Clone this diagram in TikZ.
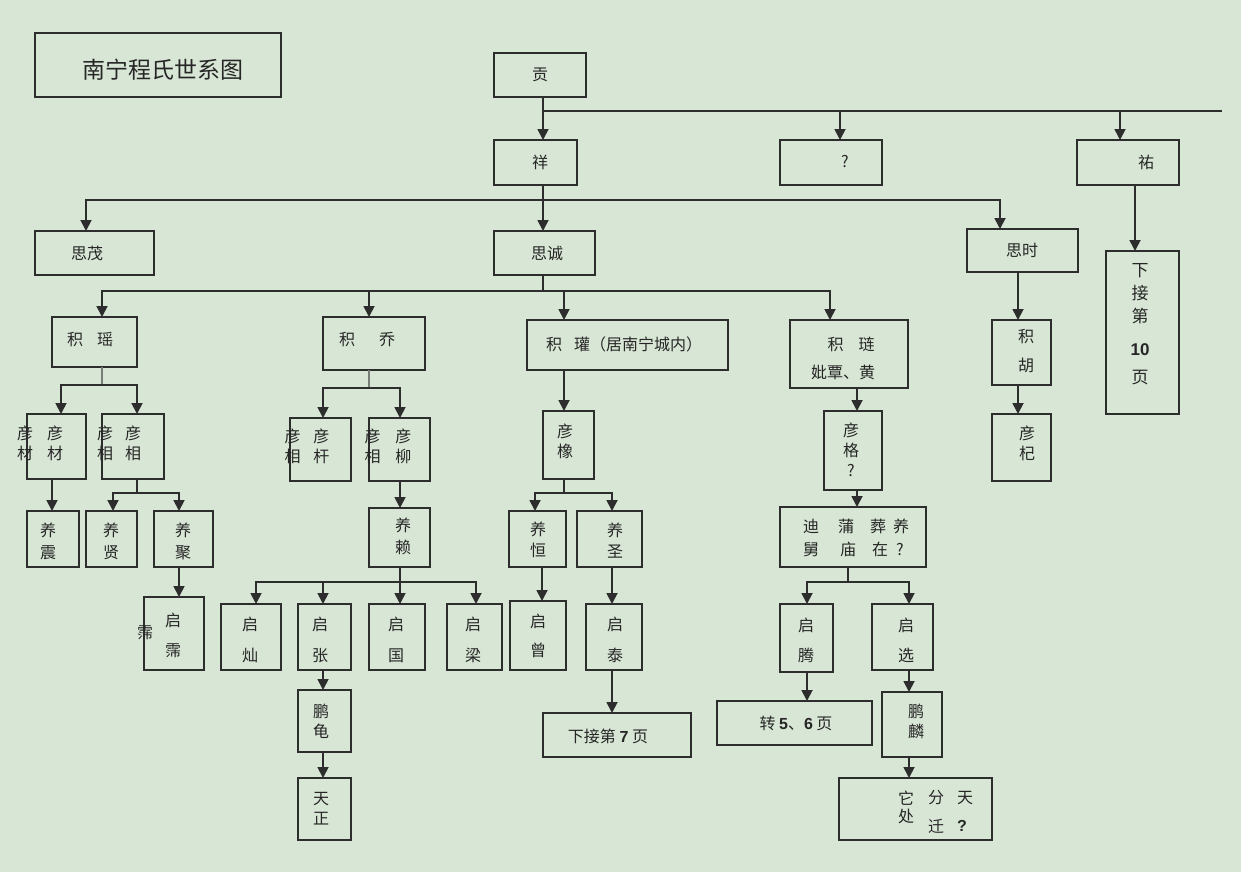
\documentclass[tikz,border=0pt]{standalone}
\usepackage{fontspec}
\newfontfamily\cjk{Noto Sans CJK SC}
\newfontfamily\lat{Liberation Sans}
\usetikzlibrary{arrows.meta}
\definecolor{bgc}{RGB}{216,230,213}
\definecolor{linec}{RGB}{45,45,45}
\definecolor{stubc}{RGB}{120,125,120}
\tikzset{
  box/.style={draw=linec, line width=1.4pt, inner sep=0pt, outer sep=0pt, anchor=north west},
  txt/.style={font=\cjk\fontsize{16}{20}\selectfont, align=center, inner sep=0pt, text=black!85},
  conn/.style={draw=linec, line width=1.8pt},
  arr/.style={conn, -{Triangle[width=11pt,length=11pt]}},
  stub/.style={draw=stubc, line width=1.1pt}
}
\newcommand\bx[5]{\node[box,minimum width={#4pt-#2pt},minimum height={#5pt-#3pt}] (#1) at (#2,#3) {};}
\newcommand\tx[4]{\node[txt] (#1) at (#2,#3) {#4};}
\begin{document}
\begin{tikzpicture}[x=1pt,y=-1pt]
\fill[bgc] (0,0) rectangle (1241,872);
\useasboundingbox (0,0) rectangle (1241,872);
% ---- boxes and texts
\bx{title}{35}{33}{281}{97}
\node[txt,font=\cjk\fontsize{23}{26}\selectfont] (titlet) at (163,70) {南宁程氏世系图};
\bx{gong}{494}{53}{586}{97} \tx{gongt}{540}{75}{贡}
\bx{xiang}{494}{140}{577}{185} \tx{xiangt}{540}{162}{祥}
\bx{q}{780}{140}{882}{185} \tx{qt}{845}{162}{?}
\bx{you}{1077}{140}{1179}{185} \tx{yout}{1146}{162}{祐}
\bx{p10}{1106}{251}{1179}{414}
\node[txt,font=\cjk\fontsize{17}{23}\selectfont] (p10t) at (1140,324) {下\\接\\第\\[10pt]{\lat\bfseries 10}\\[5pt]页};
\bx{simao}{35}{231}{154}{275} \tx{simaot}{87}{253}{思茂}
\bx{sicheng}{494}{231}{595}{275} \tx{sichengt}{547}{253}{思诚}
\bx{sishi}{967}{229}{1078}{272} \tx{sishit}{1022}{250}{思时}
\bx{jiyao}{52}{317}{137}{367} \tx{jiyaot}{90}{339}{积\hspace{14pt}瑶}
\bx{jiqiao}{323}{317}{425}{370} \tx{jiqiaot}{367}{339}{积\hspace{24pt}乔}
\bx{jiguan}{527}{320}{728}{370} \tx{jiguant}{624}{344}{积\hspace{12pt}瓘（居南宁城内）}
\bx{jilian}{790}{320}{908}{388} \tx{jiliant}{851}{344}{积\hspace{15pt}琏} \tx{jiliant2}{843}{372}{妣覃、黄}
\bx{jihu}{992}{320}{1051}{385} \tx{jihut}{1026}{351}{积\\[9pt]胡}
\bx{yanqi}{992}{414}{1051}{481} \tx{yanqit}{1027}{443}{彦\\杞}
% 积瑶 branch
\bx{yc}{27}{414}{86}{479} \tx{yct}{40}{443}{彦\hspace{14pt}彦\\材\hspace{14pt}材}
\bx{yx1}{102}{414}{164}{479} \tx{yx1t}{119}{443}{彦\hspace{12pt}彦\\相\hspace{12pt}相}
\bx{yzhen}{27}{511}{79}{567} \tx{yzhent}{48}{541}{养\\[2pt]震}
\bx{yxian}{86}{511}{137}{567} \tx{yxiant}{111}{541}{养\\[2pt]贤}
\bx{yju}{154}{511}{213}{567} \tx{yjut}{183}{541}{养\\[2pt]聚}
\bx{qpei}{144}{597}{204}{670} \tx{qpeit}{173}{635}{启\\[10pt]霈} \tx{qpeix}{145}{633}{霈}
% 积乔 branch
\bx{ygan}{290}{418}{351}{481} \tx{ygant}{307}{446}{彦\hspace{13pt}彦\\相\hspace{13pt}杆}
\bx{yliu}{369}{418}{430}{481} \tx{yliut}{388}{446}{彦\hspace{15pt}彦\\相\hspace{15pt}柳}
\bx{ylai}{369}{508}{430}{567} \tx{ylait}{403}{536}{养\\[2pt]赖}
\bx{qcan}{221}{604}{281}{670} \tx{qcant}{250}{640}{启\\[11pt]灿}
\bx{qzhang}{298}{604}{351}{670} \tx{qzhangt}{320}{640}{启\\[11pt]张}
\bx{qguo}{369}{604}{425}{670} \tx{qguot}{396}{640}{启\\[11pt]国}
\bx{qliang}{447}{604}{502}{670} \tx{qliangt}{473}{640}{启\\[11pt]梁}
\bx{pgui}{298}{690}{351}{752} \tx{pguit}{321}{721}{鹏\\龟}
\bx{tzheng}{298}{778}{351}{840} \tx{tzhengt}{321}{809}{天\\正}
% 积瓘 branch
\bx{yxiang}{543}{411}{594}{479} \tx{yxiangt}{565}{441}{彦\\橡}
\bx{yheng}{509}{511}{566}{567} \tx{yhengt}{538}{540}{养\\[1pt]恒}
\bx{ysheng}{577}{511}{642}{567} \tx{yshengt}{615}{541}{养\\[1pt]圣}
\bx{qzeng}{510}{601}{566}{670} \tx{qzengt}{538}{636}{启\\[9pt]曾}
\bx{qtai}{586}{604}{642}{670} \tx{qtait}{615}{640}{启\\[11pt]泰}
\bx{p7}{543}{713}{691}{757} \tx{p7t}{608}{736}{下接第 {\lat\bfseries 7} 页}
% 积琏 branch
\bx{yge}{824}{411}{882}{490} \tx{yget}{851}{450}{彦\\格\\?}
\bx{di}{780}{507}{926}{567}
\node[txt,anchor=west] (dit1) at (803,526) {迪\hspace{19pt}蒲\hspace{16pt}葬\hspace{7pt}养};
\node[txt,anchor=west] (dit2) at (803,549) {舅\hspace{21pt}庙\hspace{16pt}在\hspace{8pt}?};
\bx{qteng}{780}{604}{833}{672} \tx{qtengt}{806}{640}{启\\[10pt]腾}
\bx{qxuan}{872}{604}{933}{670} \tx{qxuant}{906}{640}{启\\[10pt]选}
\bx{z56}{717}{701}{872}{745} \tx{z56t}{796}{723}{转 {\lat\bfseries 5}、{\lat\bfseries 6} 页}
\bx{plin}{882}{692}{942}{757} \tx{plint}{916}{721}{鹏\\麟}
\bx{tachu}{839}{778}{992}{840}
\tx{tc1}{906}{798}{它} \tx{tc2}{936}{798}{分} \tx{tc3}{965}{798}{天}
\tx{tc4}{906}{816}{处} \tx{tc5}{936}{826}{迁} \tx{tc6}{962}{826}{{\lat\bfseries ?}}
% ---- connectors
\draw[conn] (543,111) -- (1222,111);
\draw[arr] (gong.south -| 543,0) -- (543,0 |- xiang.north);
\draw[arr] (840,111) -- (840,0 |- q.north);
\draw[arr] (1120,111) -- (1120,0 |- you.north);
\draw[arr] (you.south -| 1135,0) -- (1135,0 |- p10.north);
\draw[arr] (xiang.south -| 543,0) -- (543,0 |- sicheng.north);
\draw[arr] (543,200) -- (86,200) -- (86,0 |- simao.north);
\draw[arr] (543,200) -- (1000,200) -- (1000,0 |- sishi.north);
\draw[conn] (sicheng.south -| 543,0) -- (543,291);
\draw[arr] (543,291) -- (102,291) -- (102,0 |- jiyao.north);
\draw[arr] (369,291) -- (369,0 |- jiqiao.north);
\draw[arr] (543,291) -- (830,291) -- (830,0 |- jilian.north);
\draw[arr] (564,291) -- (564,0 |- jiguan.north);
% 积瑶
\draw[stub] (jiyao.south -| 102,0) -- (102,385);
\draw[arr] (102,385) -- (61,385) -- (61,0 |- yc.north);
\draw[arr] (102,385) -- (137,385) -- (137,0 |- yx1.north);
\draw[arr] (yc.south -| 52,0) -- (52,0 |- yzhen.north);
\draw[conn] (yx1.south -| 137,0) -- (137,493);
\draw[arr] (137,493) -- (113,493) -- (113,0 |- yxian.north);
\draw[arr] (137,493) -- (179,493) -- (179,0 |- yju.north);
\draw[arr] (yju.south -| 179,0) -- (179,0 |- qpei.north);
% 积乔
\draw[stub] (jiqiao.south -| 369,0) -- (369,388);
\draw[arr] (369,388) -- (323,388) -- (323,0 |- ygan.north);
\draw[arr] (369,388) -- (400,388) -- (400,0 |- yliu.north);
\draw[arr] (yliu.south -| 400,0) -- (400,0 |- ylai.north);
\draw[conn] (ylai.south -| 400,0) -- (400,582);
\draw[arr] (400,582) -- (256,582) -- (256,0 |- qcan.north);
\draw[arr] (323,582) -- (323,0 |- qzhang.north);
\draw[arr] (400,582) -- (400,0 |- qguo.north);
\draw[arr] (400,582) -- (476,582) -- (476,0 |- qliang.north);
\draw[arr] (qzhang.south -| 323,0) -- (323,0 |- pgui.north);
\draw[arr] (pgui.south -| 323,0) -- (323,0 |- tzheng.north);
% 积瓘
\draw[arr] (jiguan.south -| 564,0) -- (564,0 |- yxiang.north);
\draw[conn] (yxiang.south -| 564,0) -- (564,493);
\draw[arr] (564,493) -- (535,493) -- (535,0 |- yheng.north);
\draw[arr] (564,493) -- (612,493) -- (612,0 |- ysheng.north);
\draw[arr] (yheng.south -| 542,0) -- (542,0 |- qzeng.north);
\draw[arr] (ysheng.south -| 612,0) -- (612,0 |- qtai.north);
\draw[arr] (qtai.south -| 612,0) -- (612,0 |- p7.north);
% 积琏
\draw[arr] (jilian.south -| 857,0) -- (857,0 |- yge.north);
\draw[arr] (yge.south -| 857,0) -- (857,0 |- di.north);
\draw[conn] (di.south -| 848,0) -- (848,582);
\draw[arr] (848,582) -- (807,582) -- (807,0 |- qteng.north);
\draw[arr] (848,582) -- (909,582) -- (909,0 |- qxuan.north);
\draw[arr] (qteng.south -| 807,0) -- (807,0 |- z56.north);
\draw[arr] (qxuan.south -| 909,0) -- (909,0 |- plin.north);
\draw[arr] (plin.south -| 909,0) -- (909,0 |- tachu.north);
% 思时
\draw[arr] (sishi.south -| 1018,0) -- (1018,0 |- jihu.north);
\draw[arr] (jihu.south -| 1018,0) -- (1018,0 |- yanqi.north);
\end{tikzpicture}
\end{document}
